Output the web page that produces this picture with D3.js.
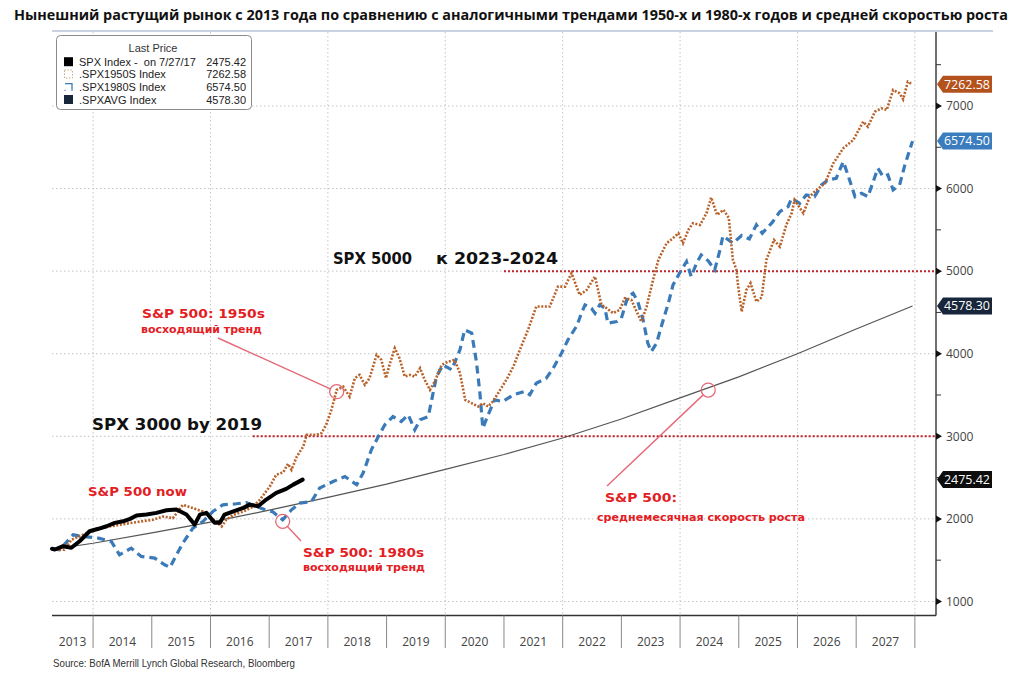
<!DOCTYPE html>
<html><head><meta charset="utf-8">
<script src="https://cdn.jsdelivr.net/npm/d3@7"></script>
<style>body{margin:0;background:#fff} svg{display:block}</style>
</head><body><svg id="c" width="1024" height="696"></svg>
<script>
// ---------------- DATA ----------------
const titleText = "Нынешний растущий рынок с 2013 года по сравнению с аналогичными трендами 1950-х и 1980-х годов и средней скоростью роста";
const sourceText = "Source: BofA Merrill Lynch Global Research, Bloomberg";
const yearLabels = [2013,2014,2015,2016,2017,2018,2019,2020,2021,2022,2023,2024,2025,2026,2027];
const yTickValues = [1000,2000,3000,4000,5000,6000,7000];
const yMinorValues = [1500,2500,3500,4500,5500,6500,7500];

const spxNow = [[2013.30,1638],[2013.35,1629],[2013.49,1669],[2013.63,1650],[2013.77,1729],[2013.94,1850],[2014.09,1880],[2014.23,1911],[2014.37,1952],[2014.51,1971],[2014.63,2000],[2014.74,2040],[2014.91,2052],[2015.08,2073],[2015.25,2104],[2015.42,2113],[2015.59,2052],[2015.73,1931],[2015.82,2052],[2015.93,2073],[2016.07,1952],[2016.16,1952],[2016.24,2052],[2016.39,2092],[2016.56,2133],[2016.67,2173],[2016.81,2153],[2016.95,2234],[2017.12,2315],[2017.29,2363],[2017.41,2415],[2017.57,2475.42]];

const spx1950s = [[2013.30,1630],[2013.51,1626],[2013.63,1747],[2013.83,1807],[2014.11,1888],[2014.45,1928],[2014.80,1968],[2015.02,1989],[2015.19,2029],[2015.36,2009],[2015.53,2170],[2015.70,2131],[2015.87,2089],[2015.99,2029],[2016.19,1908],[2016.27,1989],[2016.39,2049],[2016.56,2089],[2016.73,2150],[2016.84,2231],[2017.01,2392],[2017.12,2534],[2017.24,2564],[2017.32,2667],[2017.38,2594],[2017.47,2755],[2017.58,2876],[2017.64,3018],[2017.81,3018],[2017.89,3038],[2017.97,3139],[2018.06,3320],[2018.15,3562],[2018.26,3602],[2018.37,3481],[2018.46,3704],[2018.54,3744],[2018.63,3623],[2018.71,3704],[2018.83,3986],[2018.91,3926],[2018.99,3704],[2019.05,3865],[2019.14,4067],[2019.22,3946],[2019.31,3723],[2019.40,3744],[2019.48,3723],[2019.57,3825],[2019.65,3683],[2019.74,3562],[2019.82,3663],[2019.94,3865],[2020.05,3905],[2020.16,3925],[2020.25,3765],[2020.34,3441],[2020.45,3401],[2020.56,3360],[2020.64,3401],[2020.73,3360],[2020.81,3421],[2020.90,3522],[2021.04,3683],[2021.16,3844],[2021.27,4047],[2021.41,4290],[2021.55,4571],[2021.67,4571],[2021.78,4571],[2021.92,4813],[2022.04,4813],[2022.15,4975],[2022.29,4712],[2022.41,4773],[2022.55,4934],[2022.66,4591],[2022.75,4551],[2022.86,4491],[2022.97,4531],[2023.06,4672],[2023.17,4652],[2023.26,4510],[2023.34,4389],[2023.43,4571],[2023.54,4894],[2023.63,5136],[2023.77,5338],[2023.88,5399],[2023.97,5459],[2024.05,5338],[2024.14,5499],[2024.22,5580],[2024.34,5560],[2024.45,5701],[2024.53,5892],[2024.63,5681],[2024.74,5742],[2024.83,5644],[2024.90,5136],[2024.96,5015],[2024.99,4813],[2025.05,4510],[2025.13,4773],[2025.20,4854],[2025.30,4631],[2025.39,4682],[2025.47,5136],[2025.60,5378],[2025.70,5297],[2025.81,5560],[2025.90,5701],[2025.95,5862],[2026.10,5701],[2026.21,5902],[2026.29,5963],[2026.47,6064],[2026.61,6306],[2026.78,6488],[2026.95,6588],[2027.12,6810],[2027.20,6749],[2027.32,6931],[2027.43,6972],[2027.52,6952],[2027.63,7194],[2027.74,7154],[2027.80,7081],[2027.88,7294],[2027.96,7262.58]];

const spx1980s = [[2013.30,1638],[2013.43,1626],[2013.66,1807],[2013.83,1787],[2014.09,1767],[2014.31,1726],[2014.45,1565],[2014.65,1646],[2014.82,1545],[2015.05,1525],[2015.22,1444],[2015.31,1412],[2015.42,1565],[2015.53,1707],[2015.70,1888],[2015.87,1968],[2016.04,2089],[2016.21,2170],[2016.44,2183],[2016.61,2198],[2016.78,2150],[2016.93,2110],[2017.06,2086],[2017.23,1989],[2017.38,2110],[2017.52,2191],[2017.72,2210],[2017.86,2373],[2018.09,2453],[2018.29,2513],[2018.49,2413],[2018.60,2554],[2018.74,2836],[2018.86,2997],[2018.97,3139],[2019.11,3239],[2019.25,3179],[2019.37,3260],[2019.48,3078],[2019.57,3199],[2019.71,3239],[2019.78,3481],[2019.85,3723],[2019.96,3865],[2020.11,3805],[2020.25,4047],[2020.33,4289],[2020.45,4249],[2020.53,3905],[2020.59,3522],[2020.64,3099],[2020.73,3260],[2020.84,3441],[2020.98,3421],[2021.16,3502],[2021.35,3542],[2021.44,3502],[2021.55,3643],[2021.72,3704],[2021.84,3825],[2021.98,4007],[2022.09,4168],[2022.24,4337],[2022.32,4491],[2022.38,4591],[2022.49,4551],[2022.55,4491],[2022.63,4591],[2022.72,4551],[2022.77,4370],[2022.92,4389],[2023.00,4430],[2023.11,4692],[2023.20,4733],[2023.28,4631],[2023.37,4410],[2023.45,4128],[2023.51,4026],[2023.60,4128],[2023.68,4329],[2023.80,4612],[2023.88,4833],[2023.99,4975],[2024.11,5115],[2024.19,4934],[2024.28,5096],[2024.36,5196],[2024.48,5124],[2024.59,5015],[2024.68,5257],[2024.73,5426],[2024.90,5338],[2025.05,5432],[2025.18,5390],[2025.30,5560],[2025.40,5459],[2025.57,5590],[2025.70,5721],[2025.84,5781],[2025.90,5883],[2026.04,5822],[2026.15,5923],[2026.29,5902],[2026.41,6044],[2026.52,6104],[2026.66,6125],[2026.78,6326],[2026.86,6165],[2026.98,5902],[2027.09,5943],[2027.20,5902],[2027.29,6084],[2027.37,6246],[2027.46,6144],[2027.54,6165],[2027.63,5983],[2027.74,6044],[2027.83,6286],[2027.96,6574.50]];

const spxAvg = [[2013.30,1630],[2014,1705],[2015,1830],[2016,1960],[2017,2105],[2018,2260],[2019,2420],[2020,2600],[2021,2780],[2022,2980],[2023,3210],[2024,3465],[2025,3720],[2026,4000],[2027,4300],[2027.96,4578.30]];

const lastPrices = [7262.58, 6574.50, 4578.30, 2475.42];
const legendNames = ["SPX Index -\u00a0\u00a0on 7/27/17", ".SPX1950S Index", ".SPX1980S Index", ".SPXAVG Index"];
const legendValues = ["2475.42", "7262.58", "6574.50", "4578.30"];
const targetLines = [[5000, 2021.0], [3000, 2016.72]];

// ---------------- STYLE ----------------
const C1950 = "#b8622a", C1980 = "#3a7ab8", CAVG = "#555", CNOW = "#000";
const tagColors = ["#b4521d", "#3a7cbd", "#17263a", "#0d0d0d"];
const RED = "#e3201f", PINK = "#e56a78";
const annoFont = "'DejaVu Sans', Verdana, sans-serif";
const axFont = "'Open Sans', 'Noto Sans', sans-serif";

const svg = d3.select('#c');
const x = d3.scaleLinear().domain([2013.30, 2028.36]).range([52, 936]);
const y = d3.scaleLinear().domain([830, 7908]).range([615.5, 31]);
const [X0, X1] = x.range();
const [Y0, Y1] = y.range();

// title
svg.append('text').attr('x', 511).attr('y', 20).attr('text-anchor', 'middle')
  .attr('font-family', "'Liberation Sans Narrow','Open Sans',sans-serif").attr('font-weight', 'bold')
  .attr('font-size', 14.5).attr('fill', '#111')
  .attr('textLength', 994).attr('lengthAdjust', 'spacingAndGlyphs').text(titleText);

// top band line
svg.append('line').attr('x1', X0).attr('x2', 993).attr('y1', 31).attr('y2', 31)
  .attr('stroke', '#c8d2e2').attr('stroke-width', 2);

// grid
const grid = svg.append('g');
grid.selectAll('.hg').data(yTickValues).join('line')
  .attr('x1', X0).attr('x2', X1).attr('y1', d => y(d)).attr('y2', d => y(d))
  .attr('stroke', '#c4c4c4').attr('stroke-dasharray', '1.5,2.5');
const gridYears = d3.range(2014, 2029, 2);
grid.selectAll('.vg').data(gridYears).join('line')
  .attr('x1', d => x(d)).attr('x2', d => x(d)).attr('y1', 32).attr('y2', Y0)
  .attr('stroke', '#c4c4c4').attr('stroke-dasharray', '1.5,2.5');

// target dotted lines
svg.selectAll('.tl').data(targetLines).join('line')
  .attr('x1', d => x(d[1])).attr('x2', X1).attr('y1', d => y(d[0])).attr('y2', d => y(d[0]))
  .attr('stroke', '#c0232b').attr('stroke-width', 2).attr('stroke-dasharray', '2,2');

// lines
const line = d3.line().x(d => x(d[0])).y(d => y(d[1]));
svg.append('path').attr('d', line(spxAvg)).attr('fill', 'none').attr('stroke', CAVG).attr('stroke-width', 1.2);
svg.append('path').attr('d', line(spx1980s)).attr('fill', 'none').attr('stroke', C1980)
  .attr('stroke-width', 3.2).attr('stroke-dasharray', '8,5');
svg.append('path').attr('d', line(spx1950s)).attr('fill', 'none').attr('stroke', C1950)
  .attr('stroke-width', 2.6).attr('stroke-dasharray', '2,1.6');
svg.append('path').attr('d', line(spxNow)).attr('fill', 'none').attr('stroke', CNOW)
  .attr('stroke-width', 4).attr('stroke-linejoin', 'round').attr('stroke-linecap', 'round');

// right axis
svg.append('line').attr('x1', X1).attr('x2', X1).attr('y1', 32).attr('y2', Y0).attr('stroke', '#333').attr('stroke-width', 1.4);
const ax = svg.append('g').attr('transform', `translate(${X1},0)`)
  .call(d3.axisRight(y).tickValues(yTickValues).tickSize(0).tickPadding(10).tickFormat(d3.format('d')));
ax.select('.domain').remove();
ax.selectAll('text').attr('font-family', axFont).attr('font-size', 12).attr('fill', '#444');
svg.selectAll('.tri').data(yTickValues).join('path')
  .attr('d', d => `M${X1},${y(d) - 3.5}L${X1 + 6},${y(d)}L${X1},${y(d) + 3.5}Z`).attr('fill', '#111');
svg.selectAll('.mt').data(yMinorValues).join('line')
  .attr('x1', X1).attr('x2', X1 + 5).attr('y1', d => y(d)).attr('y2', d => y(d)).attr('stroke', '#333');

// price tags
const tags = svg.selectAll('.tag').data(lastPrices).join('g');
tags.append('path').attr('d', d => { const c = y(d); return `M${X1 + 1},${c}L${X1 + 7},${c - 8.5}L992,${c - 8.5}L992,${c + 8.5}L${X1 + 7},${c + 8.5}Z`; })
  .attr('fill', (d, i) => tagColors[i]);
tags.append('text').attr('x', X1 + 8).attr('y', d => y(d) + 4.3).text(d => d3.format('.2f')(d))
  .attr('font-family', axFont).attr('font-size', 12).attr('fill', '#fff')
  .attr('textLength', 46).attr('lengthAdjust', 'spacingAndGlyphs');

// x axis
svg.append('line').attr('x1', X0).attr('x2', X1).attr('y1', Y0).attr('y2', Y0).attr('stroke', '#333').attr('stroke-width', 1.4);
svg.selectAll('.sep').data(d3.range(2014, 2029)).join('line')
  .attr('x1', d => x(d)).attr('x2', d => x(d)).attr('y1', Y0).attr('y2', 648).attr('stroke', '#888');
svg.selectAll('.yl').data(yearLabels).join('text')
  .attr('x', d => (Math.max(x(d), X0) + Math.min(x(d + 1), X1)) / 2).attr('y', 646)
  .attr('text-anchor', 'middle').attr('font-family', axFont).attr('font-size', 12).attr('fill', '#444')
  .text(d => d);

// source
svg.append('text').attr('x', 53).attr('y', 667).attr('font-family', "'Liberation Sans Narrow','Liberation Sans',Arial,sans-serif")
  .attr('font-size', 11).attr('fill', '#333').attr('textLength', 242).attr('lengthAdjust', 'spacingAndGlyphs').text(sourceText);

// legend
const lg = svg.append('g');
lg.append('rect').attr('x', 56.5).attr('y', 35.5).attr('width', 195).attr('height', 74).attr('rx', 4)
  .attr('fill', '#fff').attr('stroke', '#8a8a8a');
lg.append('text').attr('x', 153).attr('y', 52).attr('text-anchor', 'middle').attr('font-family', "'Liberation Sans',Arial,sans-serif")
  .attr('font-size', 11).attr('fill', '#333').text('Last Price');
const rowsY = [61.7, 74, 86.7, 99.5];
legendNames.forEach((n, i) => {
  const ry = rowsY[i];
  lg.append('text').attr('x', 79).attr('y', ry + 4).attr('font-family', "'Liberation Sans',Arial,sans-serif")
    .attr('font-size', 11).attr('fill', '#222').text(n);
  lg.append('text').attr('x', 246).attr('y', ry + 4).attr('text-anchor', 'end').attr('font-family', "'Liberation Sans',Arial,sans-serif")
    .attr('font-size', 11).attr('fill', '#222').text(legendValues[i]);
});
lg.append('rect').attr('x', 64).attr('y', rowsY[0] - 4.5).attr('width', 9).attr('height', 9).attr('fill', '#000');
lg.append('rect').attr('x', 64.5).attr('y', rowsY[1] - 4).attr('width', 8).attr('height', 8).attr('fill', 'none')
  .attr('stroke', '#c9a98a').attr('stroke-dasharray', '1.5,1.5');
lg.append('path').attr('d', `M65,${rowsY[2] + 4}L65,${rowsY[2] + 3}M65,${rowsY[2] - 3}L72,${rowsY[2] - 3}L72,${rowsY[2] + 4}`)
  .attr('fill', 'none').attr('stroke', C1980).attr('stroke-width', 1.3);
lg.append('rect').attr('x', 64).attr('y', rowsY[3] - 4.5).attr('width', 9).attr('height', 9).attr('fill', '#17263a');

// annotations
function t(txt, x0, yb, size, len, color) {
  svg.append('text').attr('x', x0).attr('y', yb).attr('font-family', annoFont).attr('font-weight', 'bold')
    .attr('font-size', size).attr('fill', color).attr('textLength', len).attr('lengthAdjust', 'spacingAndGlyphs').text(txt);
}
t('SPX 5000', 333, 264, 15, 79, '#111');
t('к 2023-2024', 436, 264, 15, 122, '#111');
t('SPX 3000 by 2019', 92, 430, 15, 170, '#111');
t('S&P 500: 1950s', 142, 318, 13, 123, RED);
t('восходящий тренд', 141, 333, 11, 121, RED);
t('S&P 500 now', 88, 496, 13, 99, RED);
t('S&P 500: 1980s', 303, 557, 13, 121, RED);
t('восходящий тренд', 303, 571, 11, 122, RED);
t('S&P 500:', 605, 502, 13, 72, RED);
t('среднемесячная скорость роста', 597, 521, 11, 208, RED);

// pointers: [year, value] of the circled point and label anchor
const pointers = [
  { at: [2018.15, 3540], from: [218, 338] },
  { at: [2017.23, 1970], from: [301, 541] },
  { at: [2024.48, 3560], from: [607, 486] }
];
pointers.forEach(p => {
  const cx = x(p.at[0]), cy = y(p.at[1]);
  const dx = p.from[0] - cx, dy = p.from[1] - cy, L = Math.hypot(dx, dy);
  svg.append('line').attr('x1', p.from[0]).attr('y1', p.from[1]).attr('x2', cx + dx / L * 7).attr('y2', cy + dy / L * 7)
    .attr('stroke', PINK).attr('stroke-width', 1.4);
  svg.append('circle').attr('cx', cx).attr('cy', cy).attr('r', 7).attr('fill', 'none').attr('stroke', PINK).attr('stroke-width', 1.3);
});
</script></body></html>
